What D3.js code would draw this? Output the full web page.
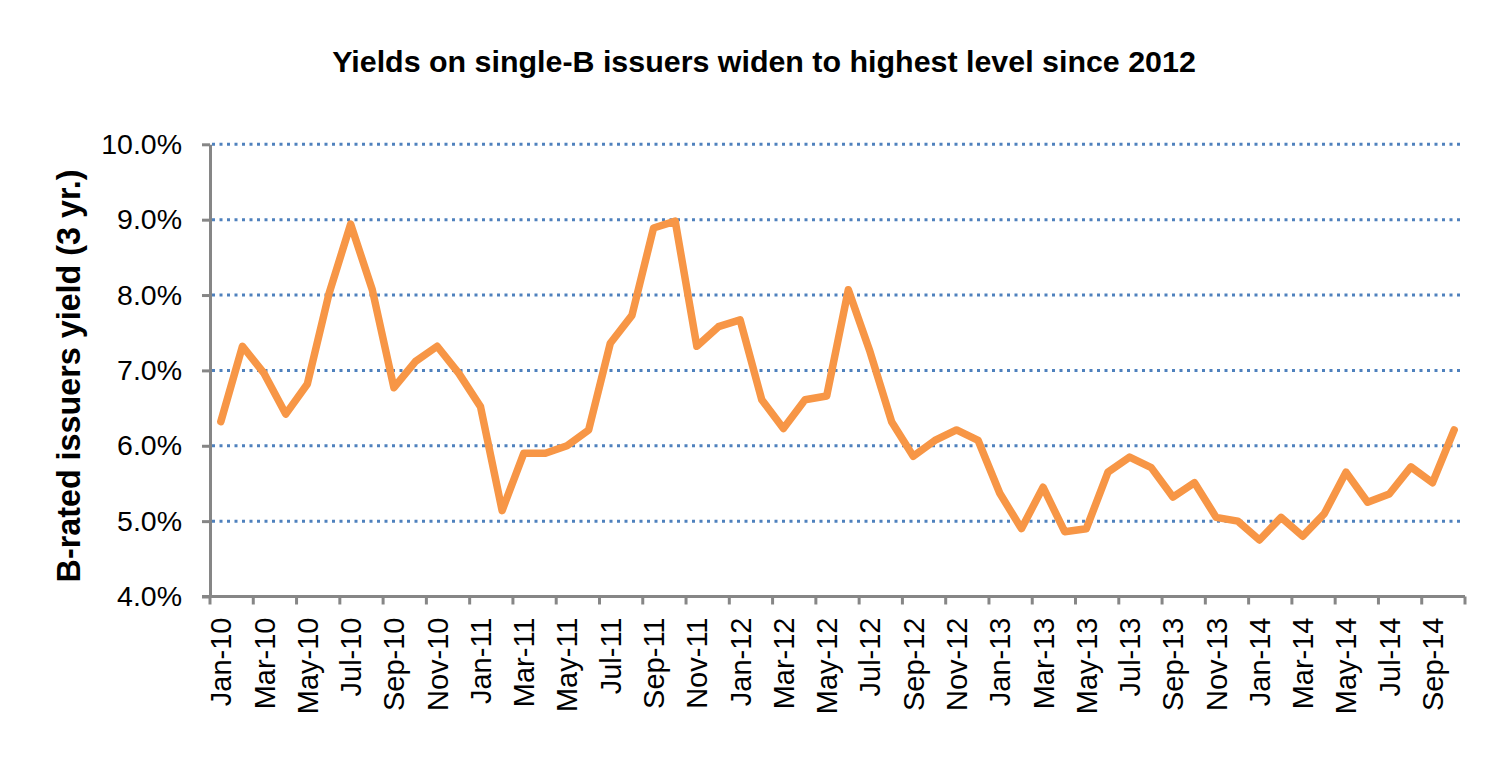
<!DOCTYPE html>
<html>
<head>
<meta charset="utf-8">
<script src="https://cdn.jsdelivr.net/npm/d3@7"></script>
<style>
    body { margin: 0; background: #fff; }
    svg { display: block; font-family: "Liberation Sans", Arial, sans-serif; }
    .axis path, .axis line { stroke: #868686; stroke-width: 3; }
    .grid line { stroke: #4f81bd; stroke-width: 3; stroke-dasharray: 3 4.5; }
    .line { fill: none; stroke: #f79646; stroke-width: 7.5; stroke-linejoin: round; stroke-linecap: round; }
</style>
</head>
<body>
<svg></svg>
<script>
"use strict";

var svg_width = 1504;
var svg_height = 777;

// months Jan-10 .. Oct-14
var months = ["Jan-10","Feb-10","Mar-10","Apr-10","May-10","Jun-10","Jul-10","Aug-10","Sep-10","Oct-10","Nov-10","Dec-10",
    "Jan-11","Feb-11","Mar-11","Apr-11","May-11","Jun-11","Jul-11","Aug-11","Sep-11","Oct-11","Nov-11","Dec-11",
    "Jan-12","Feb-12","Mar-12","Apr-12","May-12","Jun-12","Jul-12","Aug-12","Sep-12","Oct-12","Nov-12","Dec-12",
    "Jan-13","Feb-13","Mar-13","Apr-13","May-13","Jun-13","Jul-13","Aug-13","Sep-13","Oct-13","Nov-13","Dec-13",
    "Jan-14","Feb-14","Mar-14","Apr-14","May-14","Jun-14","Jul-14","Aug-14","Sep-14","Oct-14"];

// B-rated issuers yield (3 yr.), in %
var yields = [6.32, 7.32, 6.96, 6.42, 6.82, 8.02, 8.94, 8.07, 6.77, 7.12, 7.32, 6.96,
    6.52, 5.14, 5.90, 5.90, 6.00, 6.21, 7.36, 7.73, 8.89, 8.98, 7.32, 7.58,
    7.67, 6.61, 6.23, 6.61, 6.66, 8.07, 7.25, 6.32, 5.86, 6.07, 6.21, 6.07,
    5.37, 4.90, 5.45, 4.86, 4.90, 5.65, 5.85, 5.71, 5.32, 5.51, 5.05, 5.00,
    4.75, 5.05, 4.80, 5.10, 5.65, 5.25, 5.36, 5.72, 5.51, 6.21];

var yTicks = [4, 5, 6, 7, 8, 9, 10];

var title = "Yields on single-B issuers widen to highest level since 2012";
var yTitle = "B-rated issuers yield (3 yr.)";

var data = months.map(function(m, i) { return {month: m, value: yields[i]}; });

var svg = d3.select("svg")
    .attr("width", svg_width)
    .attr("height", svg_height);

var plotLeft = 210, plotRight = 1465, plotTop = 144.3, plotBottom = 596.5;

var xScale = d3.scaleBand()
    .domain(months)
    .range([plotLeft, plotRight]);
var yScale = d3.scaleLinear()
    .domain([4, 10])
    .range([plotBottom, plotTop]);

// horizontal dotted gridlines
svg.append("g")
    .attr("class", "grid")
    .selectAll("line")
    .data(yTicks.slice(1))
    .enter().append("line")
    .attr("x1", plotLeft + 2)
    .attr("x2", plotRight - 3)
    .attr("y1", function(d) { return yScale(d); })
    .attr("y2", function(d) { return yScale(d); });

// y axis
var yAxis = svg.append("g")
    .attr("class", "axis axis--y")
    .attr("transform", "translate(" + plotLeft + ",0)")
    .call(d3.axisLeft(yScale)
        .tickValues(yTicks)
        .tickSize(8)
        .tickSizeOuter(0)
        .tickPadding(20)
        .tickFormat(function(d) { return d.toFixed(1) + "%"; }));
yAxis.selectAll("text")
    .attr("fill", "#000")
    .style("font-size", "28.5px");

// x axis: ticks every 2 months on category boundaries, labels on odd months
var xAxis = svg.append("g")
    .attr("class", "axis axis--x")
    .attr("transform", "translate(0," + plotBottom + ")");
xAxis.append("line")
    .attr("x1", plotLeft - 8)
    .attr("x2", plotRight)
    .attr("y1", 0)
    .attr("y2", 0);
var boundaries = d3.range(0, months.length + 1, 2);
xAxis.selectAll(".tick-mark")
    .data(boundaries)
    .enter().append("line")
    .attr("class", "tick-mark")
    .attr("x1", function(i) { return i < months.length ? xScale(months[i]) : plotRight; })
    .attr("x2", function(i) { return i < months.length ? xScale(months[i]) : plotRight; })
    .attr("y1", 0)
    .attr("y2", 8);
xAxis.selectAll(".label")
    .data(months.filter(function(m, i) { return i % 2 === 0; }))
    .enter().append("text")
    .attr("class", "label")
    .attr("text-anchor", "end")
    .attr("dy", "0.36em")
    .attr("transform", function(d) {
        return "translate(" + (xScale(d) + xScale.bandwidth() / 2) + ",21) rotate(-90)";
    })
    .style("font-size", "29px")
    .text(function(d) { return d; });

// the series
var line = d3.line()
    .x(function(d) { return xScale(d.month) + xScale.bandwidth() / 2; })
    .y(function(d) { return yScale(d.value); });

svg.append("path")
    .datum(data)
    .attr("class", "line")
    .attr("d", line);

// titles
svg.append("text")
    .attr("text-anchor", "middle")
    .attr("x", 764)
    .attr("y", 72)
    .style("font-size", "30.4px")
    .style("font-weight", "bold")
    .text(title);

svg.append("text")
    .attr("text-anchor", "middle")
    .attr("transform", "translate(80,376) rotate(-90)")
    .style("font-size", "32.3px")
    .style("font-weight", "bold")
    .text(yTitle);
</script>
</body>
</html>
